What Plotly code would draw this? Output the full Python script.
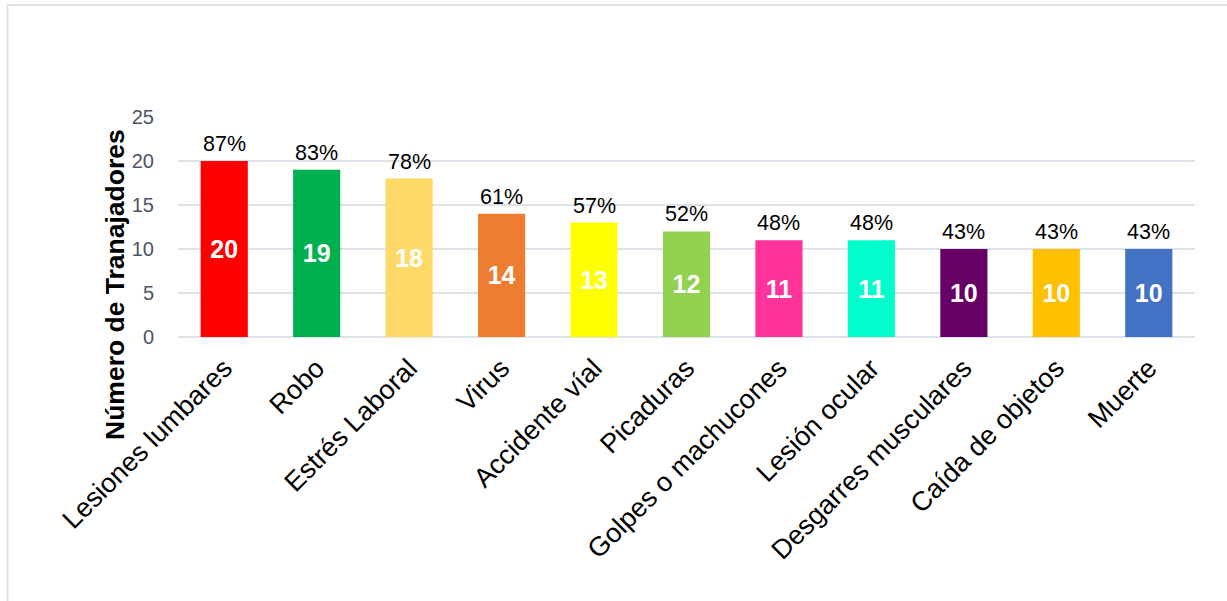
import plotly.graph_objects as go

categories = ["Lesiones lumbares", "Robo", "Estrés Laboral", "Virus", "Accidente víal",
              "Picaduras", "Golpes o machucones", "Lesión ocular", "Desgarres musculares",
              "Caída de objetos", "Muerte"]
values = [20, 19, 18, 14, 13, 12, 11, 11, 10, 10, 10]
percents = ["87%", "83%", "78%", "61%", "57%", "52%", "48%", "48%", "43%", "43%", "43%"]
colors = ["#FF0000", "#00B050", "#FFD966", "#ED7D31", "#FFFF00", "#92D050",
          "#FF3399", "#00FFCC", "#660066", "#FFC000", "#4472C4"]

W, H = 1227, 601
PL, PR, PT, PB = 178, 1195, 117, 337  # plot-area pixels
L, T, R, B = PL, PT, W - PR, H - PB
pw, ph = W - L - R, H - T - B

fig = go.Figure()
fig.add_trace(go.Bar(
    x=categories, y=values,
    marker=dict(color=colors, line=dict(width=0)),
    text=[str(v) for v in values],
    textposition="inside", insidetextanchor="middle",
    textfont=dict(family="Liberation Sans, Arial", size=25, color="white", weight="bold"),
    textangle=0,
    hoverinfo="skip",
))

for c, v, p in zip(categories, values, percents):
    fig.add_annotation(x=c, y=v, text=p, showarrow=False, yanchor="bottom",
                       yshift=3, font=dict(family="Liberation Sans, Arial", size=21.5, color="black"))

def px2x(px):
    return (px - L) / pw

def py2y(py):
    return (H - B - py) / ph

fig.add_annotation(xref="paper", yref="paper", x=px2x(115), y=py2y(285),
                   text="<b>Número de Tranajadores</b>", textangle=-90, showarrow=False,
                   xanchor="center", yanchor="middle",
                   font=dict(family="Liberation Sans, Arial", size=26.5, color="black"))

fig.add_shape(type="rect", xref="paper", yref="paper",
              x0=px2x(7.5), x1=px2x(1240), y0=py2y(5), y1=py2y(620),
              line=dict(color="#dde1e8", width=2), fillcolor="rgba(0,0,0,0)", layer="below")

fig.update_layout(
    width=W, height=H,
    margin=dict(l=L, r=R, t=T, b=B, pad=0),
    paper_bgcolor="white", plot_bgcolor="white",
    bargap=0.49, showlegend=False,
    xaxis=dict(tickangle=-45, tickfont=dict(family="Liberation Sans, Arial", size=27, color="black"),
               showgrid=False, showline=False, ticks="", automargin=False, ticklabelstandoff=9),
    yaxis=dict(range=[0, 25], dtick=5, tickfont=dict(family="Liberation Sans, Arial", size=20, color="#4a5568"),
               showgrid=True, gridcolor="#dde1e8", gridwidth=2, zeroline=True, zerolinecolor="#dde1e8",
               zerolinewidth=2, showline=False, ticks="", ticklabelstandoff=23, automargin=False),
)

fig.write_html("out.html", config={"displayModeBar": False},
               post_script="document.body.style.margin='0px';")
